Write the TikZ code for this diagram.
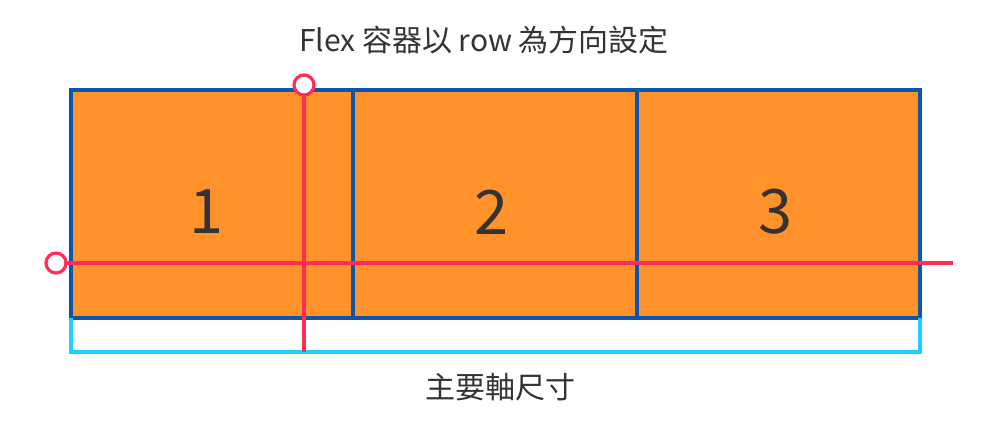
\documentclass[tikz,border=0pt]{standalone}
\usepackage{fontspec}
\setmainfont{Noto Sans CJK TC}
\definecolor{itemfill}{HTML}{FF922B}
\definecolor{itemedge}{HTML}{0B56A8}
\definecolor{axispink}{HTML}{FF2D5A}
\definecolor{sizecyan}{HTML}{1CD1FF}
\definecolor{txt}{HTML}{333333}
\tikzset{
  item/.style={draw=itemedge, fill=itemfill, line width=3pt, outer sep=0pt, minimum height=228*0.75pt, inner sep=0pt},
  digit/.style={text=txt, font=\fontsize{46}{46}\selectfont, inner sep=0pt},
  axis/.style={draw=axispink, line width=2.4pt},
  endcirc/.style={circle, draw=axispink, fill=white, line width=2.4pt, outer sep=0pt, minimum size=15pt, inner sep=0pt},
  sizeline/.style={draw=sizecyan, line width=2.6pt},
  label/.style={text=txt, font=\fontsize{22.5}{26}\selectfont, inner sep=0pt}
}
\begin{document}
\begin{tikzpicture}[x=0.75pt,y=-0.75pt]
\useasboundingbox (0,0) rectangle (1000,426);
% size bracket
\coordinate (bl) at (71,352);
\coordinate (br) at (920,352);
% items
\node[item, minimum width=282*0.75pt, anchor=north west] (i1) at (71,90) {};
\node[item, minimum width=284*0.75pt, anchor=north west] (i2) at (353,90) {};
\node[item, minimum width=283*0.75pt, anchor=north west] (i3) at (637,90) {};
\node[digit] (d1) at ([xshift=-5*0.75pt, yshift=-8*0.75pt]i1.center) {1};
\node[digit] (d2) at ([xshift=-3*0.75pt, yshift=-8*0.75pt]i2.center) {2};
\node[digit] (d3) at ([xshift=-3*0.75pt, yshift=-8*0.75pt]i3.center) {3};
\draw[sizeline] (i1.south west) -- (bl) -- (br) -- (i3.south east);
% axes
\node[endcirc] (ctop) at (304,85) {};
\coordinate (vend) at (304,352);
\draw[axis] (ctop.south) -- (vend);
\node[endcirc] (cleft) at (56,263) {};
\coordinate (hend) at (953,263);
\draw[axis] (cleft.east) -- (hend);
% labels
\node[label] (title) at (484,40) {Flex 容器以 row 為方向設定};
\node[label] (size) at (500,387) {主要軸尺寸};
\end{tikzpicture}
\end{document}
